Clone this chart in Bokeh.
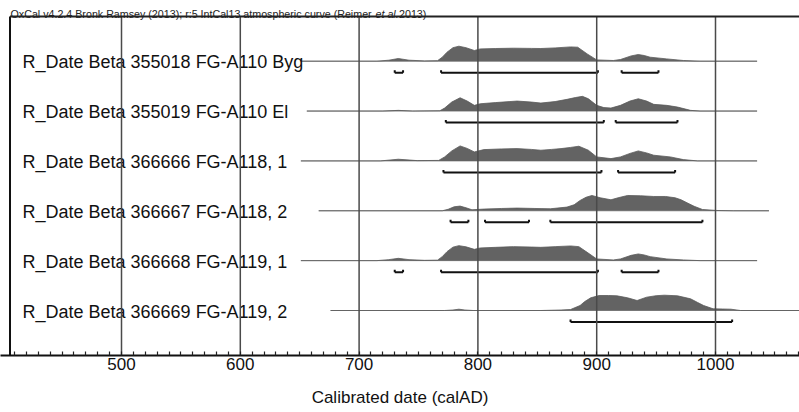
from bokeh.plotting import figure
from bokeh.models import Range1d, FixedTicker
from bokeh.core.properties import value
from bokeh.embed import file_html
from bokeh.resources import INLINE

# ---------------- data ----------------
labels = ["R_Date Beta 355018 FG-A110 Byg",
          "R_Date Beta 355019 FG-A110 El",
          "R_Date Beta 366666 FG-A118, 1",
          "R_Date Beta 366667 FG-A118, 2",
          "R_Date Beta 366668 FG-A119, 1",
          "R_Date Beta 366669 FG-A119, 2"]

span_start = [651, 656, 651, 666, 651, 676]
span_end = [1035, 1035, 1035, 1045, 1035, 1075]

years1 = [651, 715, 725, 733, 742, 755, 766, 770, 774, 779, 784, 790, 797, 802, 815, 830, 845, 853, 865, 878, 884, 892, 900, 914, 920, 929, 935, 940, 945, 959, 973, 987, 1035]
prob1 = [0, 0, 1, 2.7, 1, 0.3, 0.5, 4, 9, 13.5, 15, 13.5, 10.7, 12.3, 12.7, 13, 12.8, 12.7, 13.3, 14.3, 14, 7.3, 1.3, 0.7, 1.7, 5.3, 6.7, 5.7, 4, 2.3, 0.7, 0, 0]

years2 = [656, 720, 733, 745, 768, 772, 778, 785, 791, 797, 802, 815, 833, 845, 853, 865, 875, 882, 888, 893, 900, 906, 912, 920, 928, 935, 942, 948, 959, 968, 979, 987, 1035]
prob2 = [0, 0, 0.7, 0, 0.3, 3, 9, 13.3, 10, 5.7, 7.3, 8.5, 10, 9, 8, 9.5, 11.7, 13.5, 14.7, 12.3, 5.7, 3.5, 3, 5.7, 10, 12.3, 10, 6.7, 5.7, 4, 0.7, 0, 0]

years3 = [651, 718, 733, 749, 767, 772, 778, 785, 791, 797, 805, 820, 833, 845, 853, 862, 870, 878, 885, 893, 900, 912, 920, 928, 935, 942, 948, 962, 973, 985, 1035]
prob3 = [0, 0, 1.7, 0.3, 0.5, 4, 10, 15, 12.5, 9, 11.3, 12, 12.3, 11.5, 10.7, 11.5, 12.3, 13.5, 14.7, 10.7, 4, 2.3, 4, 7.5, 10, 8, 5.7, 4, 1.3, 0, 0]

years4 = [666, 770, 775, 780, 785, 790, 795, 805, 820, 833, 848, 861, 875, 881, 886, 891, 896, 903, 912, 918, 926, 937, 948, 958, 966, 971, 976, 982, 989, 1001, 1015, 1045]
prob4 = [0, 0, 1.5, 4, 4.7, 3, 1, 1.7, 2.3, 2.7, 2.3, 2, 3.7, 6, 10.3, 13.5, 15.3, 13, 11, 13, 15.3, 15, 14.3, 14.3, 13, 11, 8, 4.5, 1.3, 0.3, 0, 0]

years5 = [651, 715, 725, 733, 742, 755, 766, 770, 774, 779, 784, 790, 797, 802, 815, 830, 845, 853, 865, 878, 885, 892, 900, 914, 920, 929, 935, 940, 945, 959, 973, 987, 1035]
prob5 = [0, 0, 1, 2.3, 1, 0.3, 0.5, 4, 9, 13.5, 15, 13.8, 11.3, 12.7, 13.3, 14, 13.6, 13.3, 14, 14.7, 14, 8.3, 1.7, 0.7, 1.7, 5.3, 6.7, 5.7, 4, 1.7, 0.7, 0, 0]

years6 = [676, 772, 779, 784, 789, 796, 853, 870, 878, 886, 890, 895, 902, 910, 917, 926, 934, 942, 950, 957, 968, 979, 985, 990, 998, 1006, 1013, 1021, 1075]
prob6 = [0, 0, 0.5, 1.3, 0.5, 0, 0, 0.5, 1, 5, 9, 12.7, 15, 15, 14.7, 12.7, 10, 13.3, 14.8, 15.3, 14.7, 11.7, 8, 5, 1.7, 1.5, 1.3, 0, 0]

range_row = [0, 0, 0, 1, 1, 2, 2, 3, 3, 3, 4, 4, 4, 5]
range_lo = [730, 769, 921, 773, 916, 771, 918, 777, 806, 861, 730, 769, 921, 878]
range_hi = [737, 901, 952, 906, 968, 904, 966, 792, 843, 989, 737, 901, 952, 1014]

major_ticks = [500, 600, 700, 800, 900, 1000]
minor_ticks = list(range(410, 1080, 10))

title_parts = ["OxCal v4.2.4 Bronk Ramsey (2013); r:5 IntCal13 atmospheric curve (Reimer ",
               "et al.", " 2013)"]

# ---------------- layout helpers (pixel positions of the figure) ----------------
PX_PER_YR = 1.188
X500 = 121.0             # pixel x of year 500
ROW_PX = 49.86
ROW1_Y = 60.7            # pixel y of first row baseline


def xd(px):
    return 500 + (px - X500) / PX_PER_YR


def yd(py):
    return 6 + (ROW1_Y - py) / ROW_PX


W, H = 799, 412
AXIS_Y = 355
x_lo, x_hi = xd(0), xd(W)
y_hi = yd(0)
y_lo = yd(AXIS_Y)
frame_top = yd(16)
frame_left = xd(9.5)
HSCALE = 1.0 / ROW_PX     # one probability unit = 1 px

p = figure(width=W, height=H, x_range=Range1d(x_lo, x_hi), y_range=Range1d(y_lo, y_hi),
           output_backend="svg", toolbar_location=None, y_axis_location=None,
           min_border_left=0, min_border_right=0, min_border_top=0,
           min_border_bottom=H - AXIS_Y,
           outline_line_color=None, background_fill_color="white", border_fill_color="white")
p.xgrid.visible = False
p.ygrid.visible = False

ax = p.xaxis[0]
ax.ticker = FixedTicker(ticks=major_ticks, minor_ticks=minor_ticks)
ax.axis_line_width = 2
ax.axis_line_color = "#111111"
ax.major_tick_in = 0
ax.major_tick_out = 0
ax.minor_tick_in = 4
ax.minor_tick_out = 0
ax.minor_tick_line_color = "#222222"
ax.minor_tick_line_width = 1.2
ax.major_label_text_font = "Liberation Sans"
ax.major_label_text_font_size = "17px"
ax.major_label_text_color = "#111111"
ax.major_label_standoff = 2
ax.axis_label = "Calibrated date (calAD)"
ax.axis_label_text_font = "Liberation Sans"
ax.axis_label_text_font_size = "17px"
ax.axis_label_text_font_style = "normal"
ax.axis_label_text_color = "#111111"
ax.axis_label_standoff = 15

all_years = [years1, years2, years3, years4, years5, years6]
all_prob = [prob1, prob2, prob3, prob4, prob5, prob6]

for i in range(6):
    base = 6 - i
    p.segment(x0=[span_start[i]], y0=[base], x1=[span_end[i]], y1=[base],
              line_color="#8c8c8c", line_width=1)
    ys = [base + v * HSCALE for v in all_prob[i]]
    p.varea(x=all_years[i], y1=[base] * len(ys), y2=ys, fill_color="#636363")
    p.line(x=all_years[i], y=ys, line_color="#5a5a5a", line_width=0.8)

# ranges (brackets)
by = [6 - r - 11.5 / ROW_PX for r in range_row]
bt = [v + 2.5 / ROW_PX for v in by]
p.segment(x0=range_lo, y0=by, x1=range_hi, y1=by, line_color="#111111", line_width=2)
p.segment(x0=range_lo, y0=by, x1=range_lo, y1=bt, line_color="#111111", line_width=2)
p.segment(x0=range_hi, y0=by, x1=range_hi, y1=bt, line_color="#111111", line_width=2)

# labels
p.text(x=[xd(22)] * 6, y=[6 - i for i in range(6)], text=labels,
       text_font=value("Liberation Sans"), text_font_size="18px", text_color="#111111",
       text_baseline="middle", text_align="left", y_offset=1)

# grid lines over the distributions
p.segment(x0=major_ticks, y0=[y_lo] * 6, x1=major_ticks, y1=[frame_top] * 6,
          line_color="#4a4a4a", line_width=1.5)

# frame (left and top)
p.segment(x0=[frame_left], y0=[y_lo], x1=[frame_left], y1=[frame_top],
          line_color="#111111", line_width=2)
p.segment(x0=[frame_left], y0=[frame_top], x1=[x_hi], y1=[frame_top],
          line_color="#222222", line_width=2)

# title
ty = yd(13.5)
p.text(x=[xd(10)], y=[ty], text=[title_parts[0]], text_font=value("Liberation Sans"),
       text_font_size="10.7px", text_color="#222222", text_baseline="alphabetic")
p.text(x=[xd(375)], y=[ty], text=[title_parts[1]], text_font=value("Liberation Sans"),
       text_font_size="10.7px", text_font_style="italic", text_color="#222222",
       text_baseline="alphabetic")
p.text(x=[xd(398.5)], y=[ty], text=[title_parts[2]], text_font=value("Liberation Sans"),
       text_font_size="10.7px", text_color="#222222", text_baseline="alphabetic")

open("out.html", "w").write(file_html(p, INLINE))
